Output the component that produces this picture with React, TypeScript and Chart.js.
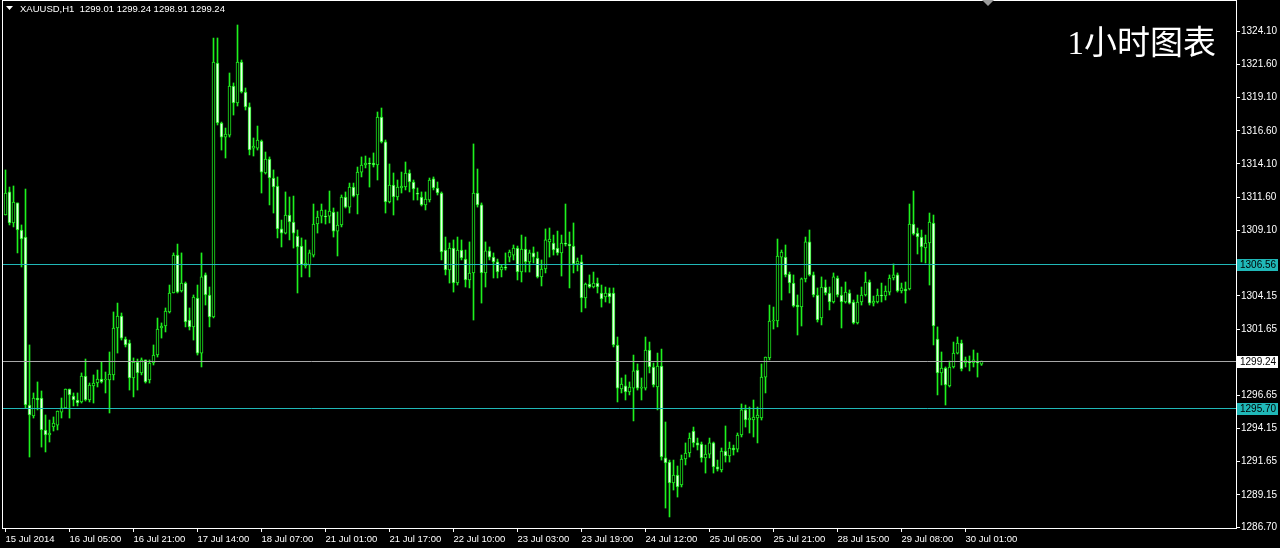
import React, { useEffect, useRef } from 'react';
import { Chart, registerables } from 'chart.js';
Chart.register(...registerables);

const symbolTitle = 'XAUUSD,H1  1299.01 1299.24 1298.91 1299.24';
const chartTitle = '1小时图表';
const timeLabels = ['15 Jul 2014', '16 Jul 05:00', '16 Jul 21:00', '17 Jul 14:00', '18 Jul 07:00', '21 Jul 01:00', '21 Jul 17:00', '22 Jul 10:00', '23 Jul 03:00', '23 Jul 19:00', '24 Jul 12:00', '25 Jul 05:00', '25 Jul 21:00', '28 Jul 15:00', '29 Jul 08:00', '30 Jul 01:00'];
const barsPerLabel = 16;
const priceTicks = [1324.10, 1321.60, 1319.10, 1316.60, 1314.10, 1311.60, 1309.10, 1304.15, 1301.65, 1296.65, 1294.15, 1291.65, 1289.15, 1286.70];
const levelLines = [1306.56, 1295.70];
const bidPrice = 1299.24;

const openP = [
1310.25,1311.99,1309.65,1311.16,1309.12,1308.59,1295.92,1295.09,1296.45,1296.45,
1294.04,1293.66,1294.26,1294.41,1295.39,1295.70,1297.13,1296.60,1296.30,1296.15,
1298.11,1296.30,1297.36,1297.58,1297.88,1297.81,1297.81,1298.19,1301.73,1302.63,
1300.90,1300.60,1297.96,1299.16,1298.34,1299.32,1297.81,1299.09,1299.69,1301.73,
1301.88,1302.94,1304.37,1307.23,1304.52,1305.12,1302.33,1301.81,1303.99,1299.84,
1305.73,1304.22,1302.56,1321.71,1317.19,1316.13,1316.28,1319.98,1318.70,1321.79,
1319.53,1318.40,1315.30,1315.30,1315.83,1313.42,1314.47,1313.04,1312.44,1309.20,
1308.89,1310.25,1309.72,1308.67,1307.91,1306.41,1306.48,1307.23,1309.57,1310.17,
1310.17,1310.17,1310.48,1309.04,1309.50,1311.61,1310.85,1312.36,1311.76,1313.49,
1314.02,1314.17,1314.17,1314.02,1317.64,1315.76,1311.23,1312.51,1311.61,1312.29,
1312.36,1313.42,1312.74,1311.91,1311.61,1311.01,1311.38,1312.97,1312.29,1311.91,
1307.61,1306.10,1307.76,1305.12,1307.61,1306.93,1305.35,1305.88,1311.91,1311.01,
1305.88,1307.54,1307.08,1306.71,1306.10,1306.33,1307.08,1307.23,1307.76,1305.95,
1307.69,1306.71,1307.39,1307.01,1305.58,1306.18,1308.22,1308.14,1307.76,1307.39,
1308.14,1308.06,1307.91,1306.56,1306.71,1303.99,1305.05,1304.82,1305.12,1304.37,
1304.07,1304.37,1304.37,1300.45,1297.13,1297.36,1296.90,1297.20,1298.56,1297.20,
1297.20,1300.07,1298.79,1297.28,1298.86,1291.93,1291.62,1290.04,1290.64,1289.89,
1291.85,1292.30,1293.96,1293.06,1292.98,1291.93,1292.22,1293.06,1291.25,1291.02,
1292.45,1292.08,1292.68,1292.60,1293.66,1295.55,1294.79,1294.79,1294.94,1294.94,
1298.03,1299.47,1302.26,1302.26,1307.08,1307.08,1305.80,1305.12,1303.46,1303.31,
1305.43,1308.22,1305.73,1304.22,1302.48,1304.82,1304.37,1303.69,1305.50,1304.22,
1303.69,1304.37,1303.69,1302.11,1303.69,1304.22,1305.20,1303.61,1303.69,1304.22,
1304.14,1304.44,1305.50,1305.73,1304.52,1304.67,1304.67,1309.57,1308.89,1308.59,
1307.76,1308.14,1309.65,1300.90,1298.34,1298.71,1297.36,1298.79,1299.84,1300.60,
1299.09,1299.16,1299.09,1299.16,1299.01
];

const highP = [
1313.65,1312.36,1312.44,1311.16,1309.50,1312.21,1300.45,1296.83,1297.66,1296.98,
1295.17,1294.79,1295.02,1295.47,1296.45,1297.13,1297.13,1296.83,1296.83,1298.34,
1299.39,1297.58,1298.19,1298.56,1299.16,1298.41,1299.92,1302.94,1303.61,1302.86,
1301.05,1300.82,1299.47,1299.39,1299.47,1299.32,1299.32,1300.45,1302.48,1302.11,
1303.24,1304.97,1307.39,1308.06,1307.39,1305.20,1303.24,1304.22,1304.97,1307.39,
1305.88,1304.82,1323.60,1323.60,1317.26,1316.81,1320.96,1320.21,1324.58,1321.94,
1319.83,1318.70,1316.06,1316.96,1315.91,1315.00,1314.63,1313.65,1313.12,1309.87,
1311.99,1311.61,1311.68,1309.12,1308.52,1308.37,1307.61,1311.08,1310.55,1311.08,
1310.63,1312.06,1310.78,1310.48,1311.76,1311.99,1312.66,1312.66,1313.87,1314.63,
1314.70,1314.55,1314.93,1318.02,1318.32,1315.91,1314.10,1313.42,1312.89,1313.49,
1314.25,1313.65,1312.89,1312.29,1311.99,1311.99,1313.04,1313.12,1312.74,1311.99,
1308.59,1308.14,1308.37,1308.59,1308.37,1307.61,1308.22,1315.61,1313.72,1311.16,
1308.22,1307.84,1307.39,1306.93,1306.48,1307.39,1307.61,1307.99,1307.91,1308.74,
1308.59,1307.61,1307.84,1307.46,1306.86,1309.20,1309.27,1308.74,1309.04,1308.74,
1311.08,1308.97,1309.65,1307.01,1307.23,1305.12,1305.73,1305.95,1305.50,1304.97,
1304.82,1304.75,1304.75,1301.05,1297.96,1298.19,1297.66,1299.69,1299.02,1297.96,
1301.05,1300.67,1299.09,1299.84,1300.14,1294.64,1291.77,1291.77,1291.32,1292.15,
1293.06,1293.81,1294.26,1293.43,1293.13,1292.90,1293.43,1293.13,1291.77,1292.68,
1294.34,1293.13,1292.90,1293.81,1296.00,1295.92,1295.77,1296.30,1295.77,1299.02,
1299.54,1303.46,1303.31,1308.44,1307.61,1307.99,1305.95,1305.73,1304.22,1305.50,
1308.59,1309.12,1305.95,1304.75,1305.58,1305.35,1304.82,1305.88,1305.65,1304.82,
1305.20,1304.60,1303.84,1304.22,1304.82,1305.95,1305.35,1304.14,1304.67,1305.12,
1304.90,1305.73,1306.56,1305.88,1305.12,1305.20,1311.08,1312.06,1309.27,1309.12,
1308.74,1310.40,1310.25,1301.81,1299.92,1298.79,1299.24,1300.67,1301.05,1300.82,
1299.54,1299.62,1300.07,1299.84,1299.24
];

const lowP = [
1310.25,1309.50,1309.35,1307.39,1306.33,1295.70,1292.00,1294.94,1295.55,1292.75,
1292.38,1293.13,1293.96,1294.04,1294.94,1295.70,1294.94,1295.85,1295.85,1296.07,
1296.22,1296.15,1296.07,1297.28,1297.58,1296.83,1295.32,1297.81,1299.84,1300.82,
1300.30,1297.05,1296.53,1297.05,1298.19,1297.58,1297.58,1298.94,1299.54,1300.97,
1301.43,1302.86,1304.37,1304.37,1304.44,1301.81,1301.58,1300.82,1299.69,1298.79,
1303.46,1301.81,1302.48,1317.04,1315.15,1314.55,1316.13,1317.79,1318.47,1319.45,
1318.17,1314.78,1314.70,1315.15,1311.91,1313.34,1311.01,1310.40,1308.52,1307.84,
1308.82,1308.37,1307.76,1304.37,1305.58,1306.25,1305.58,1307.08,1308.89,1309.65,
1309.57,1309.65,1308.59,1307.16,1309.35,1310.78,1310.40,1311.61,1310.33,1313.12,
1313.80,1312.36,1313.87,1312.89,1315.68,1310.40,1311.16,1310.25,1311.38,1311.91,
1312.14,1311.99,1311.38,1311.38,1310.93,1310.63,1311.23,1312.14,1311.76,1306.86,
1305.73,1305.12,1304.44,1304.97,1306.86,1304.82,1304.75,1302.33,1310.85,1303.61,
1304.82,1306.86,1305.50,1305.50,1305.58,1306.10,1306.71,1306.86,1305.35,1305.20,
1305.95,1305.95,1306.63,1305.50,1304.90,1305.88,1307.08,1307.23,1307.23,1305.65,
1307.91,1304.75,1305.88,1306.03,1302.94,1303.24,1304.75,1304.75,1304.37,1303.31,
1303.69,1303.61,1300.30,1296.15,1296.83,1296.30,1296.68,1294.72,1297.05,1296.30,
1297.05,1298.34,1297.28,1295.55,1291.77,1288.15,1287.48,1289.51,1288.98,1289.74,
1291.40,1292.00,1292.75,1292.53,1291.62,1290.79,1291.93,1290.79,1290.94,1290.87,
1291.62,1291.62,1292.15,1292.38,1293.51,1294.26,1293.81,1293.51,1293.06,1294.79,
1296.83,1299.32,1301.65,1301.81,1303.84,1305.58,1304.37,1303.31,1301.20,1301.88,
1305.20,1305.65,1304.07,1302.18,1301.96,1304.22,1303.09,1303.61,1304.07,1301.73,
1303.61,1303.54,1302.03,1302.03,1303.46,1304.14,1303.46,1303.39,1303.61,1303.69,
1303.84,1304.22,1305.35,1304.44,1304.37,1303.61,1304.60,1308.74,1307.31,1306.71,
1306.63,1304.97,1300.45,1296.68,1297.43,1295.92,1297.28,1298.71,1299.77,1298.49,
1298.79,1298.49,1298.79,1298.03,1298.91
];

const closeP = [
1311.91,1309.65,1311.23,1309.12,1308.44,1295.92,1295.17,1296.45,1296.30,1294.04,
1293.66,1293.81,1294.56,1295.47,1295.70,1297.13,1296.68,1296.30,1296.07,1298.11,
1296.30,1297.43,1297.58,1297.88,1297.66,1297.88,1298.26,1301.73,1302.63,1300.97,
1300.45,1297.96,1299.16,1298.34,1299.32,1297.66,1299.09,1299.69,1301.65,1301.88,
1303.01,1304.37,1307.23,1304.44,1305.12,1302.18,1301.81,1304.07,1299.84,1305.58,
1304.22,1302.56,1321.79,1317.19,1316.13,1316.36,1319.98,1318.70,1321.79,1319.53,
1318.40,1315.15,1315.45,1315.91,1313.49,1314.47,1313.04,1312.36,1309.20,1308.89,
1310.25,1309.72,1308.89,1307.84,1306.48,1306.63,1307.39,1309.57,1310.10,1310.63,
1310.10,1310.55,1309.04,1309.50,1311.61,1310.85,1312.36,1311.68,1313.49,1314.02,
1314.17,1314.10,1314.02,1317.64,1315.76,1311.23,1312.51,1311.61,1312.36,1312.44,
1313.42,1312.74,1312.21,1311.83,1311.01,1311.46,1312.89,1312.29,1311.91,1307.46,
1306.10,1307.76,1305.12,1307.61,1307.01,1305.35,1305.88,1311.91,1311.01,1305.88,
1307.54,1307.08,1306.71,1305.95,1306.33,1306.25,1307.46,1307.76,1305.95,1307.69,
1306.71,1307.39,1307.08,1305.58,1306.18,1308.37,1308.44,1307.61,1307.39,1308.14,
1308.06,1307.91,1306.56,1306.78,1303.99,1305.05,1304.82,1305.12,1304.82,1303.92,
1304.37,1304.07,1300.45,1297.20,1297.50,1296.90,1297.28,1298.49,1297.20,1297.28,
1300.07,1298.79,1297.43,1298.86,1292.00,1291.55,1290.04,1290.64,1289.74,1291.85,
1292.30,1293.43,1293.06,1292.90,1291.93,1292.22,1293.06,1291.25,1291.09,1292.45,
1292.08,1292.68,1292.53,1293.66,1295.55,1294.79,1294.94,1295.02,1295.17,1298.03,
1299.54,1302.26,1302.33,1307.16,1307.46,1305.73,1305.12,1303.39,1303.31,1305.43,
1308.22,1305.73,1304.22,1302.33,1304.82,1304.37,1303.69,1305.58,1304.22,1303.69,
1304.44,1303.61,1302.11,1303.69,1304.22,1305.20,1303.61,1303.76,1304.22,1304.14,
1304.52,1305.50,1305.73,1304.52,1304.75,1304.52,1309.57,1308.82,1308.59,1307.84,
1308.14,1309.72,1301.88,1298.34,1298.71,1297.43,1298.79,1299.84,1300.60,1298.64,
1299.32,1299.09,1299.32,1299.09,1299.24
];

const GREEN = '#1ef01e';
const LEVEL_COLOR = '#20b8b8';
const BID_COLOR = '#a8a8a8';
const AXIS_FONT = '"Liberation Sans", Arial, sans-serif';

const overlay = {
  id: 'mt4Overlay',
  afterDatasetsDraw(chart: any) {
    const { ctx, chartArea, scales } = chart;
    const y = scales.y;
    ctx.save();
    ctx.lineWidth = 1;
    const drawLine = (v: number, color: string) => {
      const py = Math.round(y.getPixelForValue(v)) + 0.5;
      ctx.strokeStyle = color;
      ctx.beginPath();
      ctx.moveTo(chartArea.left, py);
      ctx.lineTo(chartArea.right, py);
      ctx.stroke();
    };
    levelLines.forEach((v) => drawLine(v, LEVEL_COLOR));
    drawLine(bidPrice, BID_COLOR);
    ctx.restore();
  },
  afterDraw(chart: any) {
    const { ctx, chartArea, scales } = chart;
    const y = scales.y;
    ctx.save();
    // frame
    ctx.strokeStyle = '#ffffff';
    ctx.lineWidth = 1;
    ctx.strokeRect(chartArea.left - 0.5, chartArea.top - 0.5, chartArea.right - chartArea.left + 1, chartArea.bottom - chartArea.top + 1);
    // price label boxes
    const box = (v: number, bg: string) => {
      const py = Math.round(y.getPixelForValue(v));
      ctx.fillStyle = bg;
      ctx.fillRect(chartArea.right + 1, py - 5, 41, 12);
      ctx.fillStyle = '#000000';
      ctx.font = '10px ' + AXIS_FONT;
      ctx.textAlign = 'left';
      ctx.textBaseline = 'middle';
      ctx.fillText(v.toFixed(2), chartArea.right + 4, py + 1);
    };
    levelLines.forEach((v) => box(v, LEVEL_COLOR));
    box(bidPrice, '#ffffff');
    // header
    ctx.fillStyle = '#ffffff';
    ctx.beginPath();
    ctx.moveTo(6, 6);
    ctx.lineTo(13, 6);
    ctx.lineTo(9.5, 10);
    ctx.closePath();
    ctx.fill();
    ctx.font = '9.5px ' + AXIS_FONT;
    ctx.textAlign = 'left';
    ctx.textBaseline = 'middle';
    ctx.fillText(symbolTitle, 20, 9);
    // shift marker
    ctx.fillStyle = '#9a9a9a';
    ctx.beginPath();
    ctx.moveTo(982, 0);
    ctx.lineTo(994, 0);
    ctx.lineTo(988, 6);
    ctx.closePath();
    ctx.fill();
    // big title
    ctx.fillStyle = '#ffffff';
    ctx.font = '33px "Liberation Serif", "Noto Sans CJK SC", serif';
    ctx.textAlign = 'right';
    ctx.textBaseline = 'alphabetic';
    ctx.fillText(chartTitle, 1216, 54);
    ctx.restore();
  },
};

export default function App() {
  const ref = useRef<HTMLCanvasElement>(null);
  useEffect(() => {
    document.body.style.margin = '0';
    document.body.style.background = '#000';
    const canvas = ref.current!;
    const n = closeP.length;
    const idx = Array.from({ length: n }, (_, i) => i);
    const bodies = idx.map((i) => ({ x: i, y: [openP[i], closeP[i]] }));
    const wicks = idx.map((i) => ({ x: i, y: [lowP[i], highP[i]] }));
    const fills = idx.map((i) => (closeP[i] > openP[i] ? '#000000' : '#e8ffe8'));
    const chart = new Chart(canvas, {
      type: 'bar',
      data: {
        datasets: [
          {
            label: 'body',
            data: bodies as any,
            backgroundColor: fills,
            borderColor: GREEN,
            borderWidth: 1,
            borderSkipped: false,
            barThickness: 3,
            minBarLength: 1,
            grouped: false,
          } as any,
          {
            label: 'wick',
            data: wicks as any,
            backgroundColor: GREEN,
            borderWidth: 0,
            barThickness: 1,
            grouped: false,
          } as any,
        ],
      },
      options: {
        responsive: false,
        animation: false,
        devicePixelRatio: 1,
        layout: { padding: { left: 3, top: 1, right: 0, bottom: 0 } },
        plugins: { legend: { display: false }, tooltip: { enabled: false } },
        scales: {
          x: {
            type: 'linear',
            position: 'bottom',
            min: -0.625,
            max: 307.625,
            offset: false,
            afterFit: (s: any) => {
              s.height = 20;
              s.paddingLeft = 0; s.paddingRight = 0; s.paddingTop = 0; s.paddingBottom = 0;
            },
            afterBuildTicks: (s: any) => {
              s.ticks = timeLabels.map((_, k) => ({ value: k * barsPerLabel }));
            },
            grid: { offset: false, drawOnChartArea: false, drawTicks: true, tickLength: 4, color: '#ffffff', lineWidth: 1 },
            border: { display: true, color: '#ffffff' },
            ticks: {
              color: '#ffffff',
              font: { family: AXIS_FONT, size: 9.5 },
              align: 'start',
              autoSkip: false,
              maxRotation: 0,
              minRotation: 0,
              padding: 2,
              callback: (v: any) => timeLabels[Math.round(Number(v) / barsPerLabel)] ?? '',
            },
          } as any,
          y: {
            type: 'linear',
            position: 'right',
            min: 1286.646,
            max: 1326.39,
            beginAtZero: false,
            afterFit: (s: any) => {
              s.width = 44;
              s.paddingLeft = 0; s.paddingRight = 0; s.paddingTop = 0; s.paddingBottom = 0;
            },
            afterBuildTicks: (s: any) => {
              s.ticks = priceTicks.map((v) => ({ value: v }));
            },
            grid: { drawOnChartArea: false, drawTicks: true, tickLength: 4, color: '#ffffff' },
            border: { display: true, color: '#ffffff' },
            ticks: {
              color: '#ffffff',
              font: { family: AXIS_FONT, size: 10 },
              padding: 1,
              autoSkip: false,
              callback: (v: any) => Number(v).toFixed(2),
            },
          } as any,
        },
      },
      plugins: [overlay],
    });
    return () => chart.destroy();
  }, []);
  return (
    <div style={{ width: 1280, height: 548, background: '#000' }}>
      <canvas ref={ref} width={1280} height={548} style={{ display: 'block' }} />
    </div>
  );
}
